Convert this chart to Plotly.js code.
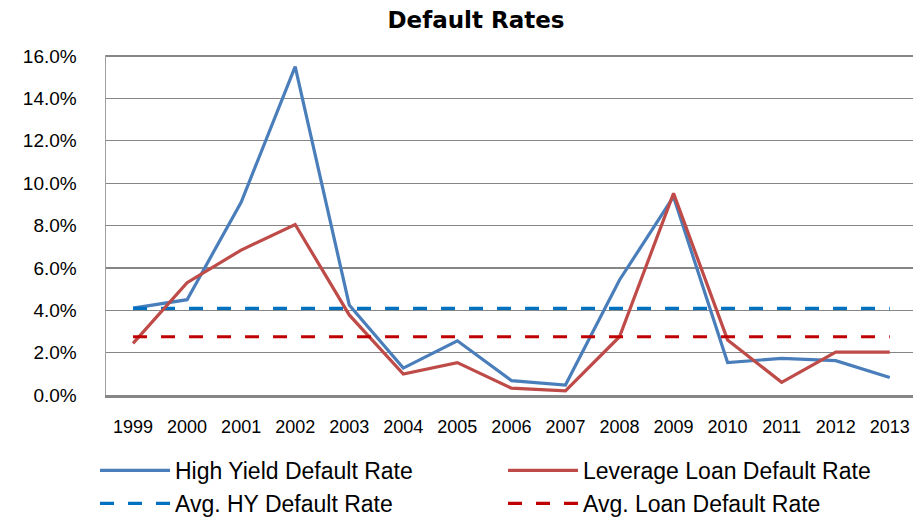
<!DOCTYPE html>
<html>
<head>
<meta charset="utf-8">
<script src="https://cdn.plot.ly/plotly-3.0.1.min.js"></script>
<style>html,body{margin:0;padding:0;background:#fff;}#chart{width:913px;height:517px;}</style>
</head>
<body>
<div id="chart"></div>
<script>
const years = ["1999","2000","2001","2002","2003","2004","2005","2006","2007","2008","2009","2010","2011","2012","2013"];
const highYield = [4.1, 4.5, 9.1, 15.5, 4.25, 1.27, 2.56, 0.68, 0.47, 5.43, 9.36, 1.53, 1.73, 1.62, 0.83];
const leverageLoan = [2.44, 5.3, 6.84, 8.05, 3.78, 0.99, 1.53, 0.32, 0.2, 2.75, 9.52, 2.6, 0.6, 2.02, 2.02];
const avgHY = [4.09, 4.09, 4.09, 4.09, 4.09, 4.09, 4.09, 4.09, 4.09, 4.09, 4.09, 4.09, 4.09, 4.09, 4.09];
const avgLoan = [2.75, 2.75, 2.75, 2.75, 2.75, 2.75, 2.75, 2.75, 2.75, 2.75, 2.75, 2.75, 2.75, 2.75, 2.75];
const yTicks = [0, 2, 4, 6, 8, 10, 12, 14, 16];
const yTickText = ["0.0%", "2.0%", "4.0%", "6.0%", "8.0%", "10.0%", "12.0%", "14.0%", "16.0%"];

const traces = [
  {x: years, y: highYield, name: "High Yield Default Rate", type: "scatter", mode: "lines",
   line: {color: "#4A7EBB", width: 3.2}, legend: "legend"},
  {x: years, y: avgHY, name: "Avg. HY Default Rate", type: "scatter", mode: "lines",
   line: {color: "#0070C0", width: 3.2, dash: "14px,14px"}, legend: "legend"},
  {x: years, y: leverageLoan, name: "Leverage Loan Default Rate", type: "scatter", mode: "lines",
   line: {color: "#BE4B48", width: 3.2}, legend: "legend2"},
  {x: years, y: avgLoan, name: "Avg. Loan Default Rate", type: "scatter", mode: "lines",
   line: {color: "#C00000", width: 3.2, dash: "14px,14px"}, legend: "legend2"}
];

const legendFont = {family: "Liberation Sans, Arial, sans-serif", size: 23, color: "#000"};
const layout = {
  width: 913, height: 517,
  paper_bgcolor: "#fff", plot_bgcolor: "#fff",
  margin: {l: 106, r: 0, t: 55, b: 122, pad: 0, autoexpand: false},
  title: {text: "<b>Default Rates</b>", x: 476/913, xanchor: "center", y: 1 - 20/517, yanchor: "middle",
          font: {family: "DejaVu Sans, sans-serif", size: 23, color: "#000"}},
  xaxis: {type: "category", range: [-0.5, 14.43], showgrid: false, zeroline: false,
          showline: true, linecolor: "#868686", linewidth: 2.5, ticks: "", tickangle: 0,
          ticklabelstandoff: 14, automargin: false,
          tickfont: {family: "Liberation Sans, Arial, sans-serif", size: 18, color: "#000"}},
  yaxis: {range: [0, 16.05], tickvals: yTicks, ticktext: yTickText, showgrid: true,
          gridcolor: "#868686", gridwidth: 1.3, zeroline: false,
          showline: true, linecolor: "#A0A0A0", linewidth: 1.5, ticks: "",
          ticklabelstandoff: 24, automargin: false,
          tickfont: {family: "Liberation Sans, Arial, sans-serif", size: 19, color: "#000"}},
  showlegend: true,
  legend: {xref: "container", yref: "container", x: 95/913, xanchor: "left", y: 1 - 449/517, yanchor: "top",
           orientation: "v", font: legendFont, bgcolor: "rgba(0,0,0,0)", borderwidth: 0, itemwidth: 70},
  legend2: {xref: "container", yref: "container", x: 503/913, xanchor: "left", y: 1 - 449/517, yanchor: "top",
           orientation: "v", font: legendFont, bgcolor: "rgba(0,0,0,0)", borderwidth: 0, itemwidth: 70}
};

Plotly.newPlot("chart", traces, layout, {displayModeBar: false, staticPlot: true});
</script>
</body>
</html>
